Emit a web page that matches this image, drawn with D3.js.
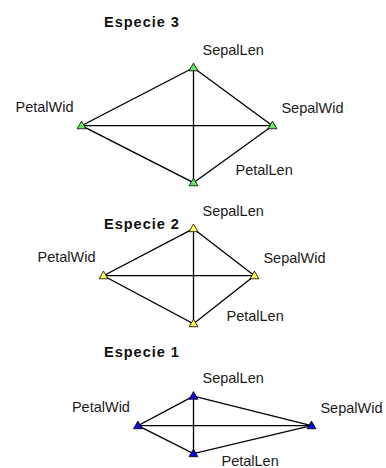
<!DOCTYPE html>
<html>
<head>
<meta charset="utf-8">
<script src="https://cdn.jsdelivr.net/npm/d3@7"></script>
<style>
  body { margin: 0; background: #fff; }
  svg { display: block; }
  .lbl { font-family: "Liberation Sans", Arial, sans-serif; font-size: 14.5px; fill: #1a1a1a; }
  .ttl { font-family: "Liberation Sans", Arial, sans-serif; font-size: 14.5px; font-weight: bold; fill: #111; letter-spacing: 1px; }
</style>
</head>
<body>
<div id="chart"></div>
<script>
// data (radius, 0..1)
const species = ['Especie 3', 'Especie 2', 'Especie 1'];
const variables = ['SepalLen', 'SepalWid', 'PetalLen', 'PetalWid'];
const especie3 = [0.483, 0.658, 0.475, 0.933];
const especie2 = [0.392, 0.508, 0.4, 0.75];
const especie1 = [0.246, 0.983, 0.233, 0.463];
const values = [especie3, especie2, especie1];

const width = 386, height = 468;
const colors = ['#62e862', '#ffff5a', '#0a0ae0'];
// layout tweaks per panel
const titleDy = [-99, -47, -69];
const petalLenOff = [[42, 49], [33, 45], [28, 40]];

const svg = d3.select('#chart').append('svg')
  .attr('width', width).attr('height', height);

const cx = 193.5;
const yCenter = d3.scalePoint().domain(species).range([125.7, 425.7]);
const r = d3.scaleLinear().domain([0, 1]).range([0, 120]);
const angle = d3.scaleLinear().domain([0, variables.length]).range([0, 2 * Math.PI]);

species.forEach((sp, i) => {
  const cy = yCenter(sp);
  const pts = values[i].map((v, j) => {
    const a = angle(j);
    return [cx + r(v) * Math.sin(a), cy - r(v) * Math.cos(a)];
  });
  const g = svg.append('g');

  // outline + the two spokes
  g.append('path')
    .attr('d', d3.line()(pts.concat([pts[0]])))
    .attr('fill', 'none').attr('stroke', '#000').attr('stroke-width', 1.3);
  g.append('line').attr('x1', pts[0][0]).attr('y1', pts[0][1]).attr('x2', pts[2][0]).attr('y2', pts[2][1])
    .attr('stroke', '#000').attr('stroke-width', 1.3);
  g.append('line').attr('x1', pts[1][0]).attr('y1', pts[1][1]).attr('x2', pts[3][0]).attr('y2', pts[3][1])
    .attr('stroke', '#000').attr('stroke-width', 1.3);

  g.selectAll('path.mark')
    .data(pts)
    .join('path')
    .attr('class', 'mark')
    .attr('d', d3.symbol(d3.symbolTriangle, 34))
    .attr('transform', d => `translate(${d[0]},${d[1] + 0.5})`)
    .attr('fill', colors[i]).attr('stroke', '#000').attr('stroke-width', 0.8);

  // labels
  g.append('text').attr('class', 'lbl').attr('x', pts[0][0] + 9).attr('y', pts[0][1] - 13).text(variables[0]);
  g.append('text').attr('class', 'lbl').attr('x', pts[1][0] + 9).attr('y', pts[1][1] - 13).text(variables[1]);
  g.append('text').attr('class', 'lbl').attr('x', cx + petalLenOff[i][0]).attr('y', cy + petalLenOff[i][1]).text(variables[2]);
  g.append('text').attr('class', 'lbl').attr('text-anchor', 'end')
    .attr('x', pts[3][0] - 8).attr('y', pts[3][1] - 14).text(variables[3]);

  g.append('text').attr('class', 'ttl').attr('x', 104).attr('y', cy + titleDy[i]).text(sp);
});
</script>
</body>
</html>
